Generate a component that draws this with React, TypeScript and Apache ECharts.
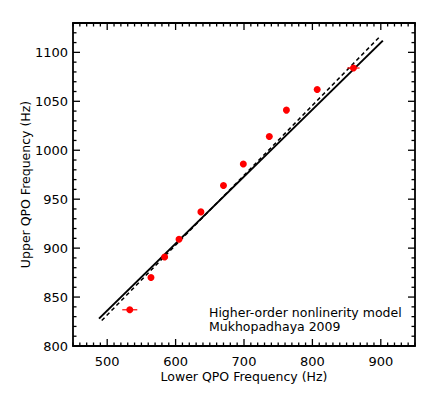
import React, { useEffect, useRef } from "react";
import * as echarts from "echarts";

// Data
const lowerQPO = [533, 564, 584, 605, 637, 670, 699, 737, 762, 807, 860];
const upperQPO = [837, 870, 891, 909, 937, 964, 986, 1014, 1041, 1062, 1084];
const lowerErr = [11, 0, 0, 0, 0, 0, 0, 0, 0, 0, 9];

const modelSolidX = [488, 903];
const modelSolidY = [828, 1112];
const modelDashedX = [492, 897];
const modelDashedY = [826, 1115];

const xTickLabels = [500, 600, 700, 800, 900];
const yTickLabels = [800, 850, 900, 950, 1000, 1050, 1100];

const X_MIN = 450, X_MAX = 950, Y_MIN = 800, Y_MAX = 1130;
const MINOR_STEP = 10;
const FONT = "DejaVu Sans";
const MAJOR_LEN = 7;
const MINOR_LEN = 3.5;

function tickValues(min: number, max: number) {
  const out: number[] = [];
  for (let v = min; v <= max + 1e-9; v += MINOR_STEP) out.push(v);
  return out;
}

export default function App() {
  const ref = useRef<HTMLDivElement>(null);
  useEffect(() => {
    if (!ref.current) return;
    const chart = echarts.init(ref.current, null, { renderer: "svg" });

    const points = lowerQPO.map((x, i) => [x, upperQPO[i]]);
    const errData = lowerQPO.map((x, i) => [x, upperQPO[i], lowerErr[i]]);
    const xs = tickValues(X_MIN, X_MAX);
    const ys = tickValues(Y_MIN, Y_MAX);

    const axisBase = {
      type: "value",
      axisLine: { show: true, onZero: false, lineStyle: { color: "#000", width: 1.8 } },
      axisTick: { show: false },
      splitLine: { show: false },
    };

    chart.setOption({
      animation: false,
      backgroundColor: "#fff",
      grid: { left: 73, right: 21, top: 23, bottom: 47, containLabel: false },
      xAxis: [
        {
          ...axisBase,
          position: "bottom",
          min: X_MIN,
          max: X_MAX,
          interval: 50,
          axisLabel: {
            show: true,
            color: "#000",
            fontSize: 13,
            fontFamily: FONT,
            margin: 9,
            formatter: (v: number) => (xTickLabels.indexOf(v) >= 0 ? String(v) : ""),
          },
          name: "Lower QPO Frequency (Hz)",
          nameLocation: "middle",
          nameGap: 24,
          nameMoveOverlap: false,
          nameTextStyle: { color: "#000", fontSize: 12.5, fontFamily: FONT },
        },
        {
          ...axisBase,
          position: "top",
          min: X_MIN,
          max: X_MAX,
          interval: 50,
          axisLabel: { show: false },
        },
      ],
      yAxis: [
        {
          ...axisBase,
          position: "left",
          min: Y_MIN,
          max: Y_MAX,
          interval: 10,
          axisLabel: {
            show: true,
            color: "#000",
            fontSize: 13,
            fontFamily: FONT,
            margin: 5,
            formatter: (v: number) => (yTickLabels.indexOf(v) >= 0 ? String(v) : ""),
          },
          name: "Upper QPO Frequency (Hz)",
          nameLocation: "middle",
          nameGap: 41,
          nameMoveOverlap: false,
          nameTextStyle: { color: "#000", fontSize: 12.5, fontFamily: FONT },
        },
        {
          ...axisBase,
          position: "right",
          min: Y_MIN,
          max: Y_MAX,
          interval: 10,
          axisLabel: { show: false },
        },
      ],
      series: [
        {
          type: "custom",
          xAxisIndex: 0,
          yAxisIndex: 0,
          silent: true,
          clip: false,
          data: [[X_MIN, Y_MIN]],
          renderItem: (params: any, api: any) => {
            const children: any[] = [];
            const st = { stroke: "#000", lineWidth: 1.3 };
            xs.forEach((v) => {
              const len = xTickLabels.indexOf(v) >= 0 ? MAJOR_LEN : MINOR_LEN;
              const b = api.coord([v, Y_MIN]);
              const t = api.coord([v, Y_MAX]);
              children.push({ type: "line", shape: { x1: b[0], y1: b[1], x2: b[0], y2: b[1] - len }, style: { ...st } });
              children.push({ type: "line", shape: { x1: t[0], y1: t[1], x2: t[0], y2: t[1] + len }, style: { ...st } });
            });
            ys.forEach((v) => {
              const len = yTickLabels.indexOf(v) >= 0 ? MAJOR_LEN : MINOR_LEN;
              const l = api.coord([X_MIN, v]);
              const r = api.coord([X_MAX, v]);
              children.push({ type: "line", shape: { x1: l[0], y1: l[1], x2: l[0] + len, y2: l[1] }, style: { ...st } });
              children.push({ type: "line", shape: { x1: r[0], y1: r[1], x2: r[0] - len, y2: r[1] }, style: { ...st } });
            });
            return { type: "group", children };
          },
          z: 5,
        },
        {
          type: "line",
          xAxisIndex: 0,
          yAxisIndex: 0,
          data: modelSolidX.map((x, i) => [x, modelSolidY[i]]),
          showSymbol: false,
          symbol: "none",
          lineStyle: { color: "#000", width: 2 },
          z: 2,
        },
        {
          type: "line",
          xAxisIndex: 0,
          yAxisIndex: 0,
          data: modelDashedX.map((x, i) => [x, modelDashedY[i]]),
          showSymbol: false,
          symbol: "none",
          lineStyle: { color: "#000", width: 1.5, type: [4, 3] },
          z: 2,
        },
        {
          type: "custom",
          xAxisIndex: 0,
          yAxisIndex: 0,
          data: errData,
          renderItem: (params: any, api: any) => {
            const x = api.value(0), y = api.value(1), e = api.value(2);
            if (!e) return null;
            const a = api.coord([x - e, y]);
            const b = api.coord([x + e, y]);
            return {
              type: "line",
              shape: { x1: a[0], y1: a[1], x2: b[0], y2: b[1] },
              style: { stroke: "#ff0000", lineWidth: 1.2 },
            };
          },
          z: 3,
        },
        {
          type: "scatter",
          xAxisIndex: 0,
          yAxisIndex: 0,
          data: points,
          symbol: "circle",
          symbolSize: 7,
          itemStyle: { color: "#ff0000", opacity: 1 },
          z: 4,
        },
      ],
      graphic: [
        {
          type: "text",
          left: 209,
          top: 306,
          style: { text: "Higher-order nonlinerity model", fill: "#000", fontSize: 12.5, fontFamily: FONT },
        },
        {
          type: "text",
          left: 209,
          top: 320,
          style: { text: "Mukhopadhaya 2009", fill: "#000", fontSize: 12.5, fontFamily: FONT },
        },
      ],
    });
    return () => chart.dispose();
  }, []);
  return (
    <div
      ref={ref}
      style={{ position: "absolute", left: 0, top: 0, width: 436, height: 393 }}
    />
  );
}
